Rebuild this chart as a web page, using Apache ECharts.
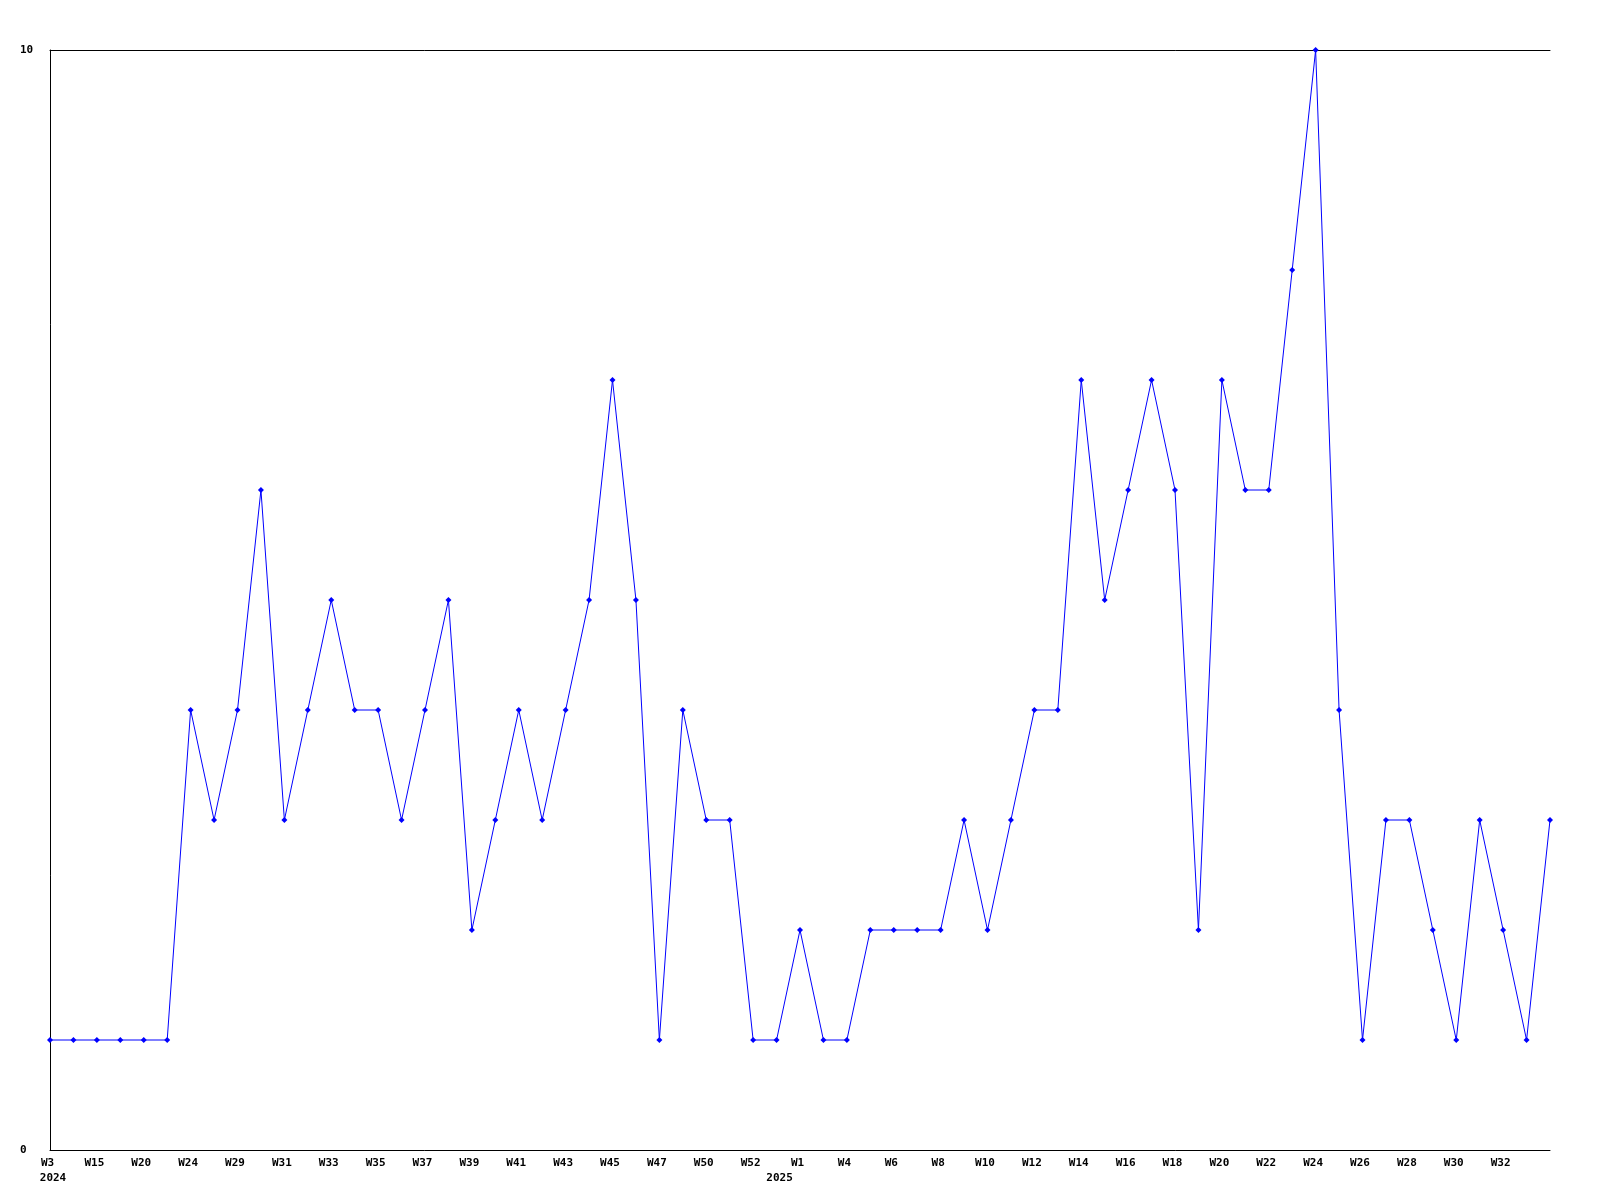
<!DOCTYPE html>
<html><head><meta charset="utf-8">
<script src="https://cdn.jsdelivr.net/npm/echarts@6/dist/echarts.min.js"></script>
<style>html,body{margin:0;padding:0;background:#fff}#c{width:1600px;height:1200px}</style>
</head><body><div id="c"></div>
<script>
const weeks = ['W3','W10','W15','W17','W20','W22','W24','W26','W29','W30','W31','W32','W33','W34','W35','W36','W37','W38','W39','W40','W41','W42','W43','W44','W45','W46','W47','W49','W50','W51','W52','W53','W1','W2','W4','W5','W6','W7','W8','W9','W10','W11','W12','W13','W14','W15','W16','W17','W18','W19','W20','W21','W22','W23','W24','W25','W26','W27','W28','W29','W30','W31','W32','W33','W34'];
const values = [1,1,1,1,1,1,4,3,4,6,3,4,5,4,4,3,4,5,2,3,4,3,4,5,7,5,1,4,3,3,1,1,2,1,1,2,2,2,2,3,2,3,4,4,7,5,6,7,6,2,7,6,6,8,10,4,1,3,3,2,1,3,2,1,3];
const yearLabels = {0:'2024', 31:'2025'};
const yTicks = [0, 10];

const font = {fontFamily:'DejaVu Sans Mono', fontWeight:'bold', fontSize:11, color:'#000'};
const chart = echarts.init(document.getElementById('c'));
chart.setOption({
  animation:false,
  grid:{left:50, right:50, top:50, bottom:50, containLabel:false},
  xAxis:[
    {type:'category', data:weeks, boundaryGap:false, position:'bottom',
     axisLine:{show:true, lineStyle:{color:'#000', width:1}}, axisTick:{show:false}, splitLine:{show:false},
     axisLabel:Object.assign({margin:8, padding:[0,5,0,0], interval:(i)=> i%2===0 && i<weeks.length-1}, font)},
    {type:'category', data:weeks, boundaryGap:false, position:'bottom', offset:15,
     axisLine:{show:false}, axisTick:{show:false}, splitLine:{show:false},
     axisLabel:Object.assign({margin:8, padding:[0,0,0,6], interval:(i)=> yearLabels[i]!==undefined, formatter:(v,i)=> yearLabels[i]||''}, font)},
    {type:'category', data:weeks, boundaryGap:false, position:'top',
     axisLine:{show:true, lineStyle:{color:'#000', width:1}}, axisTick:{show:false}, axisLabel:{show:false}, splitLine:{show:false}}
  ],
  yAxis:{type:'value', min:yTicks[0], max:yTicks[1], interval:yTicks[1]-yTicks[0],
    axisLine:{show:true, lineStyle:{color:'#000', width:1}}, axisTick:{show:false}, splitLine:{show:false},
    axisLabel:Object.assign({margin:30, align:'left'}, font)},
  series:[{type:'line', data:values, xAxisIndex:0, symbol:'diamond', symbolSize:6, showSymbol:true,
    lineStyle:{color:'#0000ff', width:1}, itemStyle:{color:'#0000ff'}}]
});
</script></body></html>
